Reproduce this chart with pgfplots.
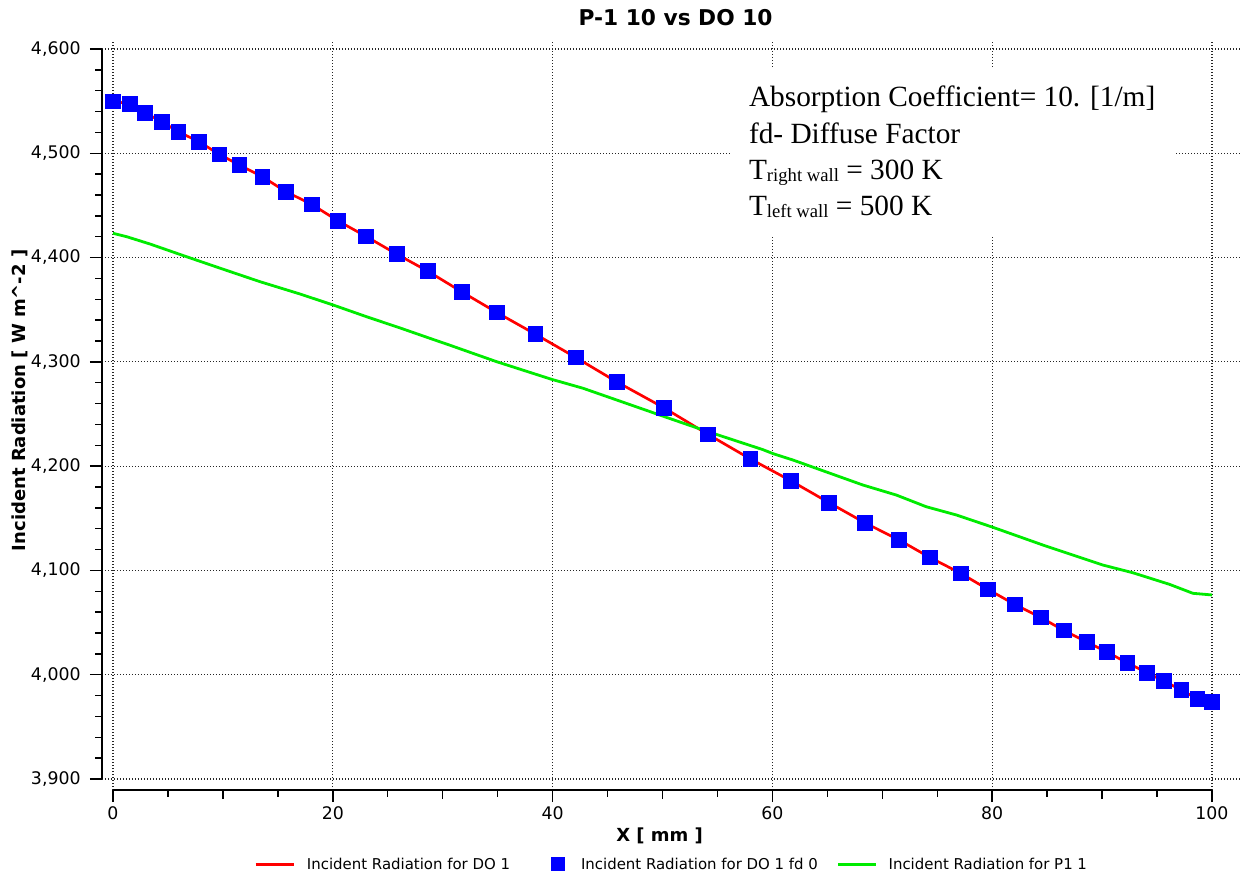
\documentclass[border=0pt]{standalone}
\usepackage{fontspec}
\setmainfont{DejaVu Sans}
\newfontfamily\timesfont{Liberation Serif}
\usepackage{pgfplots}
\usepackage{pgfplotstable}
\pgfplotsset{compat=1.18}
\definecolor{dored}{RGB}{255,0,0}
\definecolor{doblue}{RGB}{0,0,255}
\definecolor{pgreen}{RGB}{0,235,0}
\pgfplotsset{
  lineleg/.style={legend image code/.code={\draw[##1] (0pt,0pt) -- (28.5pt,0pt);}},
  markleg/.style={legend image code/.code={\path[draw=none,fill=none] (0pt,0pt) -- (28.5pt,0pt); \node[fill=doblue, draw=doblue, inner sep=0pt, minimum size=10pt] at (14.25pt,0.6pt) {};}},
}

\pgfplotstableread{
x y
0.00 4550
1.50 4547.3
2.91 4538.9
4.43 4530.3
5.94 4520.7
7.82 4511.1
9.67 4499.0
11.49 4488.8
13.58 4477.6
15.73 4463.2
18.07 4451.1
20.44 4435.4
23.01 4420.4
25.80 4403.4
28.62 4387.1
31.71 4367.3
34.90 4347.5
38.41 4326.7
42.08 4304.4
45.81 4281.0
50.11 4256.1
54.14 4230.5
58.00 4206.9
61.66 4186.1
65.15 4165.0
68.40 4145.8
71.53 4129.2
74.31 4112.6
77.13 4097.3
79.61 4081.9
82.04 4067.5
84.40 4055.1
86.49 4042.6
88.61 4031.4
90.43 4021.8
92.29 4011.5
94.07 4002.0
95.62 3994.0
97.20 3985.4
98.65 3977.0
100.00 3974.2
}\dodata

\pgfplotstableread{
x y
0.00 4423.3
1.25 4420.0
3.37 4413.0
6.70 4400.8
10.03 4388.8
13.37 4376.9
17.01 4365.1
20.04 4354.5
23.07 4343.3
26.10 4332.6
29.13 4321.5
30.65 4316.0
34.90 4300.2
39.90 4283.3
42.77 4274.7
48.84 4252.4
49.75 4249.0
53.69 4234.7
54.60 4231.5
59.15 4215.8
60.06 4212.0
61.87 4205.9
68.24 4181.9
71.28 4172.3
74.00 4161.1
76.74 4153.2
80.06 4141.4
84.61 4124.4
90.07 4105.2
92.80 4097.8
96.13 4086.7
98.26 4078.1
100.00 4076.5
}\pdata

\begin{document}
\begin{tikzpicture}
\useasboundingbox (-76.5pt,-63.75pt) rectangle (855.75pt,592.5pt);
\begin{axis}[
  at={(0pt,0pt)}, anchor=south west,
  scale only axis, width=853.5pt, height=561pt,
  xmin=-1.0, xmax=102.55, ymin=3889.5, ymax=4606.7,
  clip=false,
  axis lines=left, axis line style={draw=none},
  xtick={0,20,...,100}, ytick={3900,4000,...,4600},
  minor xtick={5,10,...,95}, minor ytick={3920,3940,...,4580},
  extra x ticks={10,30,50,70,90}, extra x tick labels={},
  extra x tick style={grid=none, major tick length=6.75pt},
  tick align=outside,
  major tick length=9pt, minor tick length=5pt,
  tick style={line width=1.1pt, black},
  grid=major,
  major grid style={black!85, line width=0.95pt, dash pattern=on 0.95pt off 1.3pt},
  tick label style={font=\fontsize{13pt}{15pt}\selectfont},
  yticklabel shift=3.5pt,
  /pgf/number format/assume math mode=true,
  title={P-1 10 vs DO 10},
  title style={font=\bfseries\fontsize{16.3pt}{18pt}\selectfont, at={(axis description cs:0.504,1.0107)}, anchor=base},
  xlabel={X [ mm ]},
  xlabel style={font=\bfseries\fontsize{13.5pt}{15pt}\selectfont, at={(axis description cs:0.490,-0.0695)}, anchor=base},
  ylabel={Incident Radiation [ W m\textasciicircum-2 ]},
  ylabel style={font=\bfseries\fontsize{13.5pt}{15pt}\selectfont, at={(axis description cs:-0.0668,0.521)}, anchor=base},
  legend columns=3,
  legend style={draw=none, fill=none, inner sep=0pt, nodes={inner sep=0pt},
    font=\fontsize{11.2pt}{13pt}\selectfont,
    at={(axis description cs:0.1336,-0.099)}, anchor=west,
    /tikz/column 1/.style={column sep=9pt},
    /tikz/column 2/.style={column sep=16.5pt},
    /tikz/column 3/.style={column sep=8.25pt},
    /tikz/column 4/.style={column sep=14.25pt},
    /tikz/column 5/.style={column sep=8.25pt}},
  legend cell align=left,
]
\addplot[dored, line width=2pt, mark=none, lineleg] table[x=x,y=y] {\dodata};
\addlegendentry{Incident Radiation for DO 1}
\addplot[only marks, mark=square*, mark size=5.5pt, draw=doblue, fill=doblue, markleg] table[x=x,y=y] {\dodata};
\addlegendentry{Incident Radiation for DO 1 fd 0}
\addplot[pgreen, line width=2.1pt, mark=none, lineleg] table[x=x,y=y] {\pdata};
\addlegendentry{Incident Radiation for P1 1}
\draw[line width=1.1pt, black] (axis cs:0,3889.5) -- (axis cs:100,3889.5);
\draw[line width=1.1pt, black] (axis cs:-1,3900) -- (axis cs:-1,4600);
\node[fill=white, anchor=north west, inner xsep=14.25pt, inner ysep=13.5pt, align=left,
  font=\timesfont\fontsize{22pt}{27.2pt}\selectfont] at (axis cs:56.12,4581.8)
  {Absorption Coefficient= 10. [1/m]\\
   fd- Diffuse Factor\\
   T\raisebox{-1.5pt}{\fontsize{14pt}{14pt}\selectfont right\kern3.5pt wall} = 300 K\\
   T\raisebox{-1.5pt}{\fontsize{14pt}{14pt}\selectfont left\kern3.5pt wall} = 500 K};
\end{axis}
\end{tikzpicture}
\end{document}
